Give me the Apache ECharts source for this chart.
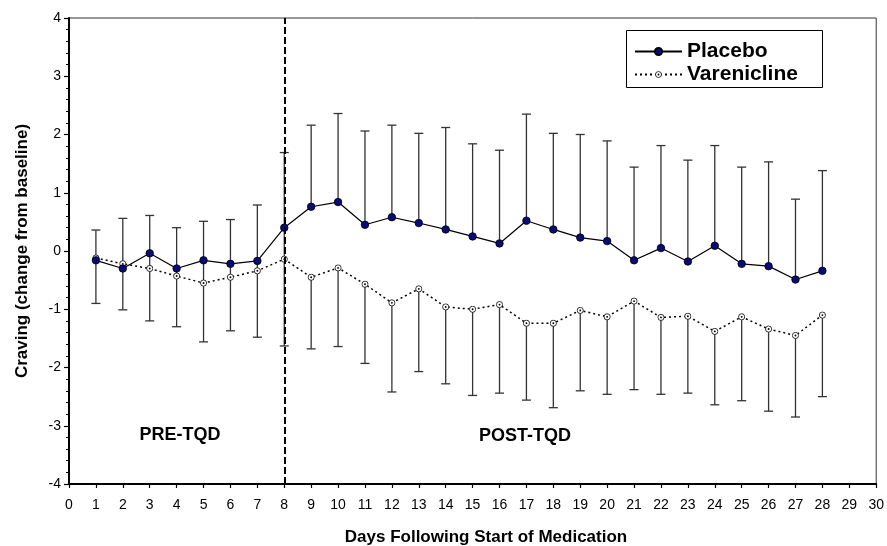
<!DOCTYPE html>
<html>
<head>
<meta charset="utf-8">
<script src="https://cdn.jsdelivr.net/npm/echarts@6/dist/echarts.min.js"></script>
<style>html,body{margin:0;padding:0;background:#fff;}#c{width:887px;height:546px;}</style>
</head>
<body>
<div id="c"></div>
<script>
const days = [1,2,3,4,5,6,7,8,9,10,11,12,13,14,15,16,17,18,19,20,21,22,23,24,25,26,27,28];
const placebo = [-0.16,-0.30,-0.04,-0.30,-0.16,-0.22,-0.17,0.40,0.76,0.84,0.45,0.58,0.48,0.37,0.25,0.13,0.52,0.37,0.23,0.17,-0.16,0.05,-0.18,0.09,-0.22,-0.26,-0.49,-0.34];
const placeboUpper = [0.36,0.56,0.61,0.40,0.51,0.54,0.79,1.69,2.16,2.36,2.06,2.16,2.02,2.12,1.84,1.73,2.35,2.02,2.00,1.89,1.44,1.81,1.56,1.81,1.44,1.53,0.89,1.38];
const varenicline = [-0.12,-0.22,-0.30,-0.43,-0.55,-0.45,-0.34,-0.14,-0.45,-0.29,-0.57,-0.89,-0.65,-0.96,-1.00,-0.92,-1.24,-1.24,-1.02,-1.13,-0.86,-1.14,-1.12,-1.38,-1.13,-1.34,-1.45,-1.10];
const vareniclineLower = [-0.90,-1.01,-1.20,-1.30,-1.56,-1.37,-1.48,-1.63,-1.68,-1.64,-1.93,-2.42,-2.07,-2.28,-2.48,-2.44,-2.56,-2.69,-2.40,-2.46,-2.38,-2.46,-2.44,-2.64,-2.57,-2.75,-2.85,-2.50];
const quitDay = 8;
const seriesNames = ['Placebo', 'Varenicline'];
const periodLabels = ['PRE-TQD', 'POST-TQD'];
const xTitle = 'Days Following Start of Medication';
const yTitle = 'Craving (change from baseline)';

const ringSvg = 'image://data:image/svg+xml;utf8,' + encodeURIComponent(
  '<svg xmlns="http://www.w3.org/2000/svg" width="16" height="16" viewBox="0 0 16 16">' +
  '<circle cx="8" cy="8" r="6.6" fill="#ffffff" stroke="#000000" stroke-width="1.7"/>' +
  '<circle cx="8" cy="8" r="2" fill="#000000"/></svg>');

function errRender() {
  return function (params, api) {
    const x = api.value(0);
    const p1 = api.coord([x, api.value(1)]);
    const p2 = api.coord([x, api.value(2)]);
    const hw = 4.5;
    const style = { stroke: '#333', lineWidth: 1.3 };
    return {
      type: 'group',
      children: [
        { type: 'line', shape: { x1: p1[0], y1: p1[1], x2: p2[0], y2: p2[1] }, style: style },
        { type: 'line', shape: { x1: p2[0] - hw, y1: p2[1], x2: p2[0] + hw, y2: p2[1] }, style: style }
      ]
    };
  };
}

const placeboErr = days.map((d, i) => [d, placebo[i], placeboUpper[i]]);
const vareniclineErr = days.map((d, i) => [d, d <= quitDay ? Math.max(placebo[i], varenicline[i]) : varenicline[i], vareniclineLower[i]]);

const chart = echarts.init(document.getElementById('c'), null, { renderer: 'canvas' });
chart.setOption({
  animation: false,
  backgroundColor: '#fff',
  grid: { left: 69, right: 8, top: 18, bottom: 62, show: true, borderColor: '#333', borderWidth: 1, backgroundColor: 'transparent' },
  xAxis: {
    type: 'value', min: 0, max: 30, interval: 1,
    axisLine: { show: true, onZero: false, lineStyle: { color: '#000', width: 2 } },
    axisTick: { show: true, length: 4, lineStyle: { color: '#000', width: 1.2 } },
    axisLabel: { margin: 14, fontFamily: 'Liberation Sans, Arial, sans-serif', fontSize: 14, color: '#000' },
    splitLine: { show: false }
  },
  yAxis: {
    type: 'value', min: -4, max: 4, interval: 1,
    name: yTitle, nameLocation: 'middle', nameGap: 38,
    nameTextStyle: { fontFamily: 'Liberation Sans, Arial, sans-serif', fontWeight: 'bold', fontSize: 17, color: '#000' },
    axisLine: { show: true, onZero: false, lineStyle: { color: '#000', width: 2 } },
    axisTick: { show: true, length: 5, lineStyle: { color: '#000', width: 1.2 } },
    minorTick: { show: true, splitNumber: 5, length: 3, lineStyle: { color: '#000', width: 1 } },
    axisLabel: { margin: 8, fontFamily: 'Liberation Sans, Arial, sans-serif', fontSize: 14, color: '#000' },
    splitLine: { show: false }
  },
  legend: {
    data: seriesNames, orient: 'vertical', left: 634, top: 41, z: 10,
    itemWidth: 47, itemHeight: 9, itemGap: 2, padding: 0,
    textStyle: { fontFamily: 'Liberation Sans, Arial, sans-serif', fontWeight: 'bold', fontSize: 21, lineHeight: 19, color: '#000' }
  },
  graphic: [
    { type: 'rect', z: 5, shape: { x: 626.5, y: 30.5, width: 196, height: 57 }, style: { fill: '#fff', stroke: '#000', lineWidth: 1 } },
    { type: 'text', x: 180, y: 435, style: { text: periodLabels[0], fill: '#000', font: 'bold 18px "Liberation Sans", Arial, sans-serif', textAlign: 'center', textVerticalAlign: 'middle' } },
    { type: 'text', x: 525, y: 436, style: { text: periodLabels[1], fill: '#000', font: 'bold 18px "Liberation Sans", Arial, sans-serif', textAlign: 'center', textVerticalAlign: 'middle' } },
    { type: 'text', x: 486, y: 537, style: { text: xTitle, fill: '#000', font: 'bold 17px "Liberation Sans", Arial, sans-serif', textAlign: 'center', textVerticalAlign: 'middle' } }
  ],
  series: [
    { type: 'custom', name: 'placeboErr', renderItem: errRender(), data: placeboErr, z: 1, silent: true, encode: { x: 0, y: [1, 2] } },
    { type: 'custom', name: 'vareniclineErr', renderItem: errRender(), data: vareniclineErr, z: 1, silent: true, encode: { x: 0, y: [1, 2] } },
    {
      type: 'line', name: seriesNames[1], z: 3,
      data: days.map((d, i) => [d, varenicline[i]]),
      symbol: ringSvg, symbolSize: 7.5,
      lineStyle: { color: '#000', width: 1.5, type: [2, 3] },
      itemStyle: { color: '#fff', borderColor: '#000' }
    },
    {
      type: 'line', name: seriesNames[0], z: 4,
      data: days.map((d, i) => [d, placebo[i]]),
      symbol: 'circle', symbolSize: 7.5,
      lineStyle: { color: '#000', width: 1.2 },
      itemStyle: { color: '#0a0a78', borderColor: '#000', borderWidth: 0.8 },
      markLine: {
        silent: true, symbol: 'none', label: { show: false },
        lineStyle: { color: '#000', width: 2, type: [7, 3] },
        data: [{ xAxis: quitDay }]
      }
    }
  ]
});
</script>
</body>
</html>
